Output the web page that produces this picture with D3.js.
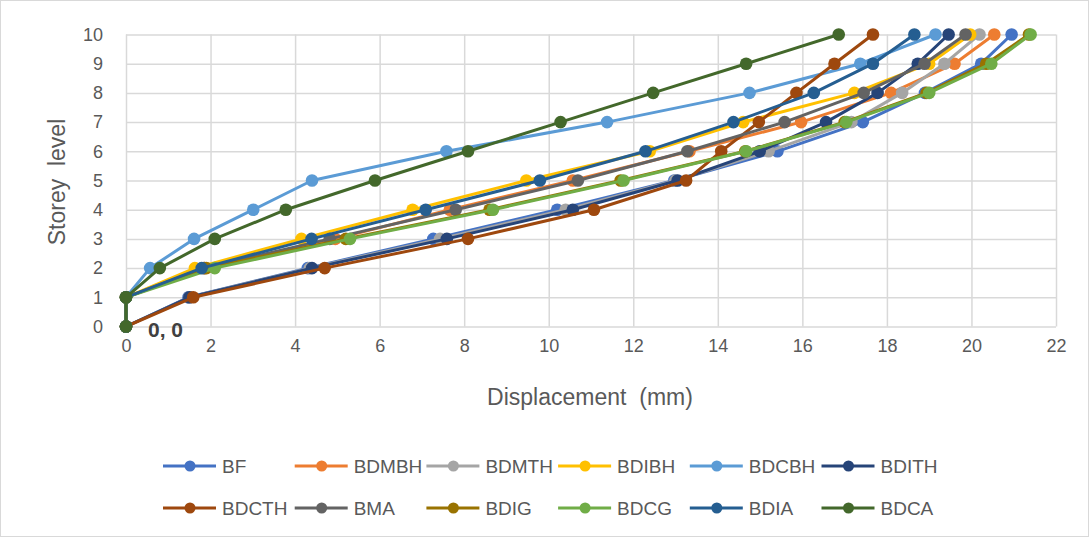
<!doctype HTML>
<html lang='en'>
<head>
	<meta charset='utf-8'>
	<title>Storey displacement</title>
	<script src='https://cdn.jsdelivr.net/npm/d3@7'></script>
	<style>
		html, body { margin: 0; padding: 0; background: #fff; }
		body { font-family: 'Liberation Sans', Arial, sans-serif; }
		.axis text { fill: #595959; font-size: 18px; }
		.axis path { display: none; }
		.grid line { stroke: #d9d9d9; stroke-width: 1.5; }
		.legend text { fill: #595959; font-size: 19px; }
	</style>
</head>
<body>
	<div id='container'></div>
	<script>
		// storey levels (y) and displacement of each model (x, mm)
		const storeys = [0, 1, 2, 3, 4, 5, 6, 7, 8, 9, 10];
		const BF    = [0, 1.48, 4.30, 7.27, 10.20, 12.97, 15.41, 17.43, 18.90, 20.23, 20.95];
		const BDMBH = [0, 0, 1.85, 4.95, 7.66, 10.57, 13.33, 15.97, 18.10, 19.60, 20.54];
		const BDMTH = [0, 1.50, 4.35, 7.43, 10.40, 13.00, 15.20, 17.16, 18.36, 19.36, 20.19];
		const BDIBH = [0, 0, 1.63, 4.15, 6.78, 9.47, 12.39, 14.60, 17.23, 19.00, 19.97];
		const BDCBH = [0, 0, 0.57, 1.61, 3.01, 4.40, 7.58, 11.38, 14.75, 17.37, 19.15];
		const BDITH = [0, 1.50, 4.40, 7.59, 10.57, 13.05, 14.99, 16.56, 17.78, 18.73, 19.46];
		const BDCTH = [0, 1.59, 4.70, 8.09, 11.07, 13.25, 14.08, 14.97, 15.86, 16.76, 17.67];
		const BMA   = [0, 0, 1.85, 4.82, 7.80, 10.69, 13.28, 15.58, 17.45, 18.89, 19.86];
		const BDIG  = [0, 0, 1.90, 5.20, 8.60, 11.70, 14.65, 17.00, 18.94, 20.35, 21.36];
		const BDCG  = [0, 0, 2.10, 5.30, 8.68, 11.77, 14.67, 17.04, 19.00, 20.47, 21.40];
		const BDIA  = [0, 0, 1.79, 4.39, 7.09, 9.79, 12.29, 14.37, 16.27, 17.67, 18.65];
		const BDCA  = [0, 0, 0.80, 2.10, 3.78, 5.89, 8.09, 10.28, 12.47, 14.67, 16.86];

		const names = ['BF', 'BDMBH', 'BDMTH', 'BDIBH', 'BDCBH', 'BDITH',
			'BDCTH', 'BMA', 'BDIG', 'BDCG', 'BDIA', 'BDCA'];
		const values = [BF, BDMBH, BDMTH, BDIBH, BDCBH, BDITH, BDCTH, BMA, BDIG, BDCG, BDIA, BDCA];
		const colors = ['#4472c4', '#ed7d31', '#a5a5a5', '#ffc000', '#5b9bd5', '#264478',
			'#9e480e', '#636363', '#997300', '#70ad47', '#255e91', '#43682b'];
		const xTicks = [0, 2, 4, 6, 8, 10, 12, 14, 16, 18, 20, 22];

		const W = 1089, H = 537;
		const margin = {top: 34.5, left: 126, right: 33, bottom: 210.5};
		const width = W - margin.left - margin.right,
			height = H - margin.top - margin.bottom;

		const x = d3.scaleLinear().domain([0, 22]).range([0, width]);
		const y = d3.scaleLinear().domain([0, 10]).range([height, 0]);

		const root = d3.select('#container').append('svg')
			.attr('width', W)
			.attr('height', H);

		// chart border
		root.append('rect')
			.attr('x', 0.5).attr('y', 0.5)
			.attr('width', W - 1).attr('height', H - 1)
			.attr('fill', 'none')
			.attr('stroke', '#d9d9d9');

		const svg = root.append('g')
			.attr('transform', 'translate(' + margin.left + ',' + margin.top + ')');

		// grid
		svg.append('g')
			.attr('class', 'grid')
			.attr('transform', 'translate(0,' + height + ')')
			.call(d3.axisBottom(x).tickValues(xTicks).tickSize(-height).tickFormat(''))
			.select('.domain').remove();
		svg.append('g')
			.attr('class', 'grid')
			.call(d3.axisLeft(y).tickValues(storeys).tickSize(-width).tickFormat(''))
			.select('.domain').remove();

		// axes labels
		svg.append('g')
			.attr('class', 'axis')
			.attr('transform', 'translate(0,' + height + ')')
			.call(d3.axisBottom(x).tickValues(xTicks).tickSize(0).tickPadding(13));
		svg.append('g')
			.attr('class', 'axis')
			.call(d3.axisLeft(y).tickValues(storeys).tickSize(0).tickPadding(23));

		// series
		const line = d3.line()
			.x((d) => { return x(d[0]); })
			.y((d) => { return y(d[1]); });

		names.forEach((name, i) => {
			const pts = values[i].map((v, j) => { return [v, storeys[j]]; });
			const g = svg.append('g');
			g.append('path')
				.datum(pts)
				.attr('d', line)
				.attr('fill', 'none')
				.attr('stroke', colors[i])
				.attr('stroke-width', 3)
				.attr('stroke-linejoin', 'round');
			g.selectAll('circle')
				.data(pts)
				.enter()
				.append('circle')
				.attr('cx', (d) => { return x(d[0]); })
				.attr('cy', (d) => { return y(d[1]); })
				.attr('r', 6.3)
				.attr('fill', colors[i]);
		});

		// data label at origin
		svg.append('text')
			.attr('x', x(0) + 22)
			.attr('y', y(0) + 10)
			.attr('fill', '#404040')
			.style('font-size', '21px')
			.style('font-weight', 'bold')
			.text('0, 0');

		// axis titles
		root.append('text')
			.attr('x', 590)
			.attr('y', 405)
			.attr('text-anchor', 'middle')
			.attr('fill', '#595959')
			.style('font-size', '23px')
			.style('white-space', 'pre')
			.text('Displacement  (mm)');
		root.append('text')
			.attr('transform', 'translate(65,182) rotate(-90)')
			.attr('text-anchor', 'middle')
			.attr('fill', '#595959')
			.style('font-size', '23px')
			.style('white-space', 'pre')
			.text('Storey  level');

		// legend
		const legend = root.append('g')
			.attr('class', 'legend')
			.selectAll('g')
			.data(names)
			.enter()
			.append('g')
			.attr('transform', (d, i) => {
				return 'translate(' + (163 + (i % 6) * 131.7) + ',' + (466 + Math.floor(i / 6) * 42) + ')';
			});
		legend.append('line')
			.attr('x1', 0).attr('x2', 53)
			.attr('stroke', (d, i) => { return colors[i]; })
			.attr('stroke-width', 3);
		legend.append('circle')
			.attr('cx', 27).attr('r', 5.5)
			.attr('fill', (d, i) => { return colors[i]; });
		legend.append('text')
			.attr('x', 59)
			.attr('y', 7)
			.text((d) => { return d; });
	</script>
</body>
</html>
